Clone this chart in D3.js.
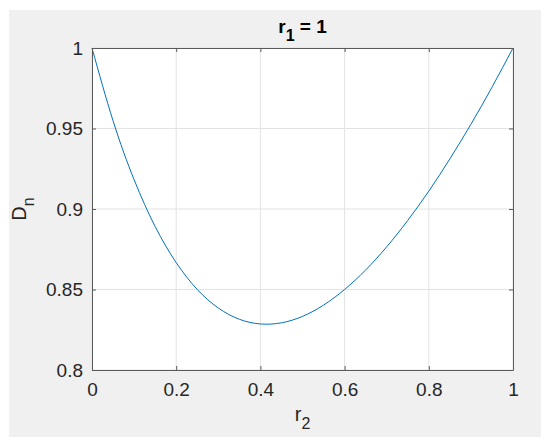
<!DOCTYPE html>
<html><head><meta charset="utf-8">
<script src="https://cdn.jsdelivr.net/npm/d3@7"></script>
<style>body{margin:0;background:#fff}svg{display:block}text{font-family:"Liberation Sans",Arial,Helvetica,sans-serif}</style>
</head><body>
<script>
const r2 = [0,0.05,0.10,0.15,0.20,0.25,0.30,0.35,0.40,0.45,0.50,0.55,0.60,0.65,0.70,0.75,0.80,0.85,0.90,0.95,1.00];
const Dn = [1,0.9548,0.9182,0.8891,0.8667,0.85,0.8385,0.8315,0.8286,0.8293,0.8333,0.8403,0.85,0.8621,0.8765,0.8929,0.9111,0.9311,0.9526,0.9756,1];
const xTicks = [0,0.2,0.4,0.6,0.8,1];
const yTicks = [0.8,0.85,0.9,0.95,1];

const W=550,H=448;
const svg=d3.select("body").append("svg").attr("width",W).attr("height",H);
svg.append("rect").attr("x",9).attr("y",10).attr("width",532).attr("height",427).attr("fill","#f0f0f0");
const L=92,R=513,T=48,B=370;
const x=d3.scaleLinear().domain([0,1]).range([L,R]);
const y=d3.scaleLinear().domain([0.8,1]).range([B,T]);
svg.append("rect").attr("x",L).attr("y",T).attr("width",R-L).attr("height",B-T).attr("fill","#fff");
const g=svg.append("g");
g.selectAll(".gx").data(xTicks).join("line").attr("x1",d=>x(d)).attr("x2",d=>x(d)).attr("y1",T).attr("y2",B).attr("stroke","#e3e3e3").attr("stroke-width",1);
g.selectAll(".gy").data(yTicks).join("line").attr("y1",d=>y(d)).attr("y2",d=>y(d)).attr("x1",L).attr("x2",R).attr("stroke","#e3e3e3").attr("stroke-width",1);

const line=d3.line().x((d,i)=>x(r2[i])).y(d=>y(d)).curve(d3.curveNatural);
svg.append("path").datum(Dn).attr("d",line).attr("fill","none").attr("stroke","#0072BD").attr("stroke-width",1);

// axes
const axB=d3.axisBottom(x).tickValues(xTicks).tickFormat(d3.format("")).tickSizeInner(-4).tickSizeOuter(0).tickPadding(13);
const axT=d3.axisTop(x).tickValues(xTicks).tickFormat("").tickSizeInner(-4).tickSizeOuter(0);
const axL=d3.axisLeft(y).tickValues(yTicks).tickFormat(d3.format("")).tickSizeInner(-4).tickSizeOuter(0).tickPadding(9);
const axR=d3.axisRight(y).tickValues(yTicks).tickFormat("").tickSizeInner(-4).tickSizeOuter(0);
function style(s){s.selectAll("path").attr("stroke","#5a5a5a");s.selectAll("line").attr("stroke","#5a5a5a");s.selectAll("text").attr("fill","#262626").style("font-size","19px").style("font-family","'Liberation Sans', Arial, sans-serif");}
svg.append("g").attr("transform",`translate(0,${B})`).call(axB).call(style);
svg.append("g").attr("transform",`translate(0,${T})`).call(axT).call(style);
svg.append("g").attr("transform",`translate(${L},0)`).call(axL).call(style);
svg.append("g").attr("transform",`translate(${R},0)`).call(axR).call(style);

// title
const t=svg.append("text").attr("x",(L+R)/2).attr("y",33).attr("text-anchor","middle").attr("fill","#000").style("font-size","19px").style("font-weight","bold");
t.append("tspan").text("r");
t.append("tspan").attr("dy",8).style("font-size","16px").text("1");
t.append("tspan").attr("dy",-8).text(" = 1");
// x label
const xl=svg.append("text").attr("x",(L+R)/2).attr("y",421).attr("text-anchor","middle").attr("fill","#262626").style("font-size","20px");
xl.append("tspan").text("r");
xl.append("tspan").attr("dy",8).style("font-size","16px").text("2");
// y label
const yl=svg.append("text").attr("transform",`translate(26,${(T+B)/2}) rotate(-90)`).attr("text-anchor","middle").attr("fill","#262626").style("font-size","20px");
yl.append("tspan").text("D");
yl.append("tspan").attr("dy",8).style("font-size","16px").text("n");
</script>
</body></html>
